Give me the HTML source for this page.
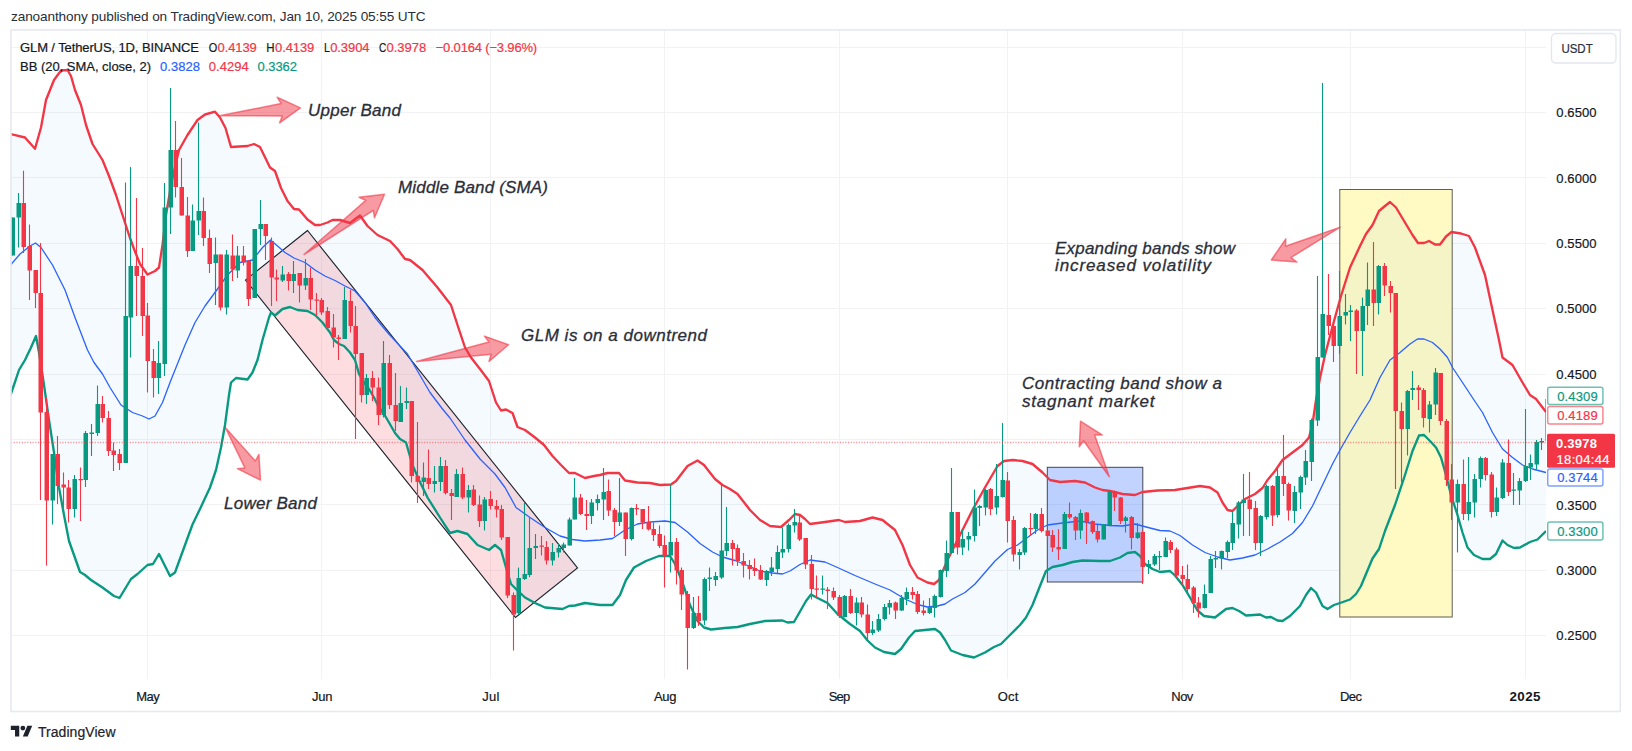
<!DOCTYPE html>
<html lang="en"><head><meta charset="utf-8"><title>GLM / TetherUS</title>
<style>html,body{margin:0;padding:0;background:#fff}svg{display:block}</style></head>
<body>
<svg width="1632" height="751" viewBox="0 0 1632 751" font-family="'Liberation Sans', sans-serif">
<defs><clipPath id="plot"><rect x="11" y="30" width="1535" height="681"/></clipPath></defs>
<rect width="1632" height="751" fill="#ffffff"/>
<g stroke="#f2f2f4" stroke-width="1" shape-rendering="crispEdges">
<line x1="11" y1="635.5" x2="1546" y2="635.5"/>
<line x1="11" y1="570.5" x2="1546" y2="570.5"/>
<line x1="11" y1="504.5" x2="1546" y2="504.5"/>
<line x1="11" y1="439.5" x2="1546" y2="439.5"/>
<line x1="11" y1="374.5" x2="1546" y2="374.5"/>
<line x1="11" y1="308.5" x2="1546" y2="308.5"/>
<line x1="11" y1="243.5" x2="1546" y2="243.5"/>
<line x1="11" y1="177.5" x2="1546" y2="177.5"/>
<line x1="11" y1="112.5" x2="1546" y2="112.5"/>
<line x1="11" y1="47.5" x2="1546" y2="47.5"/>
<line x1="147.5" y1="30" x2="147.5" y2="679"/>
<line x1="321.5" y1="30" x2="321.5" y2="679"/>
<line x1="490.5" y1="30" x2="490.5" y2="679"/>
<line x1="664.5" y1="30" x2="664.5" y2="679"/>
<line x1="839.5" y1="30" x2="839.5" y2="679"/>
<line x1="1007.5" y1="30" x2="1007.5" y2="679"/>
<line x1="1182.5" y1="30" x2="1182.5" y2="679"/>
<line x1="1350.5" y1="30" x2="1350.5" y2="679"/>
<line x1="1525.5" y1="30" x2="1525.5" y2="679"/>
</g>
<g clip-path="url(#plot)">
<polygon points="307.5,230.5 245.5,280 515.5,617.5 577.5,568" fill="#f23645" fill-opacity="0.17"/>
<rect x="1047.3" y="467.3" width="95.5" height="114.7" fill="#2962ff" fill-opacity="0.28"/>
<rect x="1339.8" y="189.5" width="112.4" height="427.5" fill="#fff9c4"/>
<polygon points="10.5,134 25,137.5 35,148.75 41,127.5 46,100 54,80 61,70.5 67.5,70 71,76 75,90 81,105 86,125 92.5,144 102.5,160 109,176 116,195 122.5,215 130,238 134,249 140,264 147.5,274.5 155,271 159,267.5 162.5,245 166,215 172,180 179,150 187.5,135 197.5,120 205,114.5 215,111.7 220,117.5 225.5,128 231,147 247.5,146 254,144 260,147 270,167.5 275,171 281,188 287.5,201 294,209 299,209.5 307.5,219.5 315,225 320,225 327.5,222.5 332.5,220 340,220 350,223 360,215.5 367.5,226 377.5,235 390,241 397.5,249 405,259 410,260 422.5,270 437.5,287.5 451,305 457.5,325 465,347.5 471,357.5 480,369 489,381 496,402.5 501,410.5 506,409.5 512.5,413 517.5,427 525,430 535,437.5 544,445 552.5,456 561,465 569,473 575,473 585,478 594,476 600,475 607.5,473 619,473 625,480.5 637.5,482.5 650,483 660,485 671,484.5 676,481 687.5,466 697.5,460.5 704,465 715,479 722.5,485 730,489 737.5,494 750,510 760,520 770,526 781,527 789,520 795,514 800,515 805,519 810,524 825,522 839,520 845,522 860,521 872.5,517.5 882.5,520 895,530 902.5,545 910,565 917.5,577.5 927.5,582.5 934,584 939,580 947.5,560 960,535 972.5,510 985,487.5 997.5,466 1004,461 1012.5,460 1022.5,461 1032.5,464 1042.5,472.5 1050,480 1060,482 1075,481 1085,482.5 1095,487.5 1102.5,490 1110,491 1122.5,494 1135,495 1142.5,492 1157.5,490.5 1175,490 1187.5,488 1200,486 1210,487.5 1217.5,492.5 1222.5,502.5 1227.5,510 1232.5,511 1237.5,506 1245,499 1255,494 1262.5,488 1267.5,480 1275,471 1282.5,460 1292.5,452.5 1302.5,445 1309,437.5 1312.5,424 1316,400 1320,378 1325,355 1330,336 1335,317.5 1341,296 1350,267.5 1360,246 1366,234 1372.5,225 1379,211 1385,206 1390,202 1396,207.5 1405,222.5 1412.5,235 1418,243 1424,243 1429,241 1435,244.5 1440,244.5 1446,236.5 1451.5,232 1461,233.5 1469,236 1475,247.5 1485,275 1492.5,310 1499,340 1502.5,357.5 1512.5,365 1522.5,382.5 1530,395 1536,399 1546,412 1546,531 1537.5,539.5 1530,542 1520,547.5 1514,548 1507.5,545 1502.5,540.5 1496,554 1490,559 1482.5,559 1474,555 1467.5,547.5 1462.5,532.5 1457.5,515 1451,495 1446,475 1441,457.5 1436,447.5 1430,441 1424,435 1419,435.5 1412.5,451 1405,475 1395,505 1385,531 1379,549 1372.5,558.5 1366,574 1361,586 1356,594 1350,599.5 1340,603 1334,605 1327.5,609 1322.5,606 1316,592.5 1311,588 1306,595 1300,606 1290,616 1282.5,621 1277.5,620.5 1271,617 1266,617.5 1260,614.5 1254,615 1246,615.5 1239,611 1232.5,608 1226,609 1215,617.5 1204,616 1197.5,610.5 1190,597.5 1182.5,585 1175,575.5 1170,571 1160,572 1152.5,569 1145,564 1140,556 1135,552 1127.5,553 1120,557.5 1110,561 1100,561 1082.5,560.5 1072.5,562 1062.5,565 1052.5,567 1046,571 1040,586 1032.5,605 1026,617.5 1020,625 1010,635 1001,644 994,647 985,652.5 974,657.5 962.5,655 951,650.5 945,640 940,632.5 935,629 925,630 915,631 909,637.5 901,649 895,654 884,652 875,647.5 867.5,640.5 860,631 850,624 837.5,614 827.5,603 817.5,598 811,594.5 806,601 800,611.5 794,622 787.5,622.5 782.5,620.5 765,621 750,624 737.5,627 725,628 711,629.5 704,627.5 697.5,621 690,605 682.5,582.5 675,564 670,556 659,556 646,561 634,567.5 626,580 620,595 612.5,605 600,605 585,603 575,605.5 569,606 562.5,609 545,607.5 535,603 525,597.5 516,589 511,584 506,567.5 501,550 495,545 489,550 477.5,545 467.5,534 457.5,531 450,533 440,517.5 427.5,497.5 419,480 412.5,465 406,442.5 400,439 395,433 389,422.5 384,414 379,407.5 374,397.5 369,389 364,382.5 359,374 355,360 350,352.5 344,346 339,344 334,340 330,332.5 322.5,322.5 315,315 307.5,311 297.5,310 290,307 282.5,309 275,315.5 271,312.5 269,317.5 262.5,340 257.5,360 252.5,372.5 247.5,379.5 236,378 231,382.5 229,395 225,425 221,447.5 216,470 210,487.5 200,509 192.5,524.5 185,545 175,572.5 170,576 159,554 153,564 147.5,565 137.5,574 131,579 119.5,598 114,596 102.5,587.5 91,580 85,575 80,572 69,541 64,515 59,487.5 54,452.5 49,420 44,385 39,352.5 36,336 31,347.5 25,360 19,370 15,382 10.5,395" fill="#2196f3" fill-opacity="0.05"/>
<polygon points="307.5,230.5 245.5,280 515.5,617.5 577.5,568" fill="none" stroke="#1e222d" stroke-width="1.15"/>
<rect x="1047.3" y="467.3" width="95.5" height="114.7" fill="none" stroke="#43464f" stroke-width="1"/>
<rect x="1339.8" y="189.5" width="112.4" height="427.5" fill="none" stroke="#5f5f55" stroke-width="1"/>
<polyline points="10.5,265 20,254 30,246 35.5,243 41,247.5 52.5,265 65,290 75,317.5 87.5,350 94,362.5 102.5,374 110,387.5 121,405 132.5,412.5 142.5,416 149,419 155,416 162.5,402.5 170,382.5 175,370 185,345 195,322.5 205,306 217.5,289 227.5,275 240,262.5 252.5,260 262.5,247.5 270.5,240 277.5,246 285,252.5 294,258 305,262.5 315,270 325,276 335,280.5 345,286 355,291 365,302.5 375,317.5 387.5,332.5 400,346 407.5,354 417.5,371 430,392.5 442.5,409 450,418 465,440 480,459 495,474 505,487.5 516,507.5 530,517.5 545,527.5 560,536 572.5,539.5 585,541 600,540 612.5,538.5 625,530 637.5,524 650,522 665,521 675,522.5 687.5,532 700,543.5 712.5,552 722.5,557 735,560.5 750,566.5 760,571 772.5,573 782.5,574 790,571 800,564.5 810,560 825,562 837.5,567.5 855,575.5 875,584 890,590 905,599 917.5,604.5 927.5,607 937.5,606 945,604 952.5,599 965,592.5 975,584 985,572.5 995,561 1007.5,549.5 1017.5,545 1027.5,537.5 1037.5,530 1047.5,525 1062.5,523 1080,521 1095,524 1110,525.5 1122.5,526 1135,524 1150,528 1160,530.5 1170,531 1180,535.5 1192.5,545 1205,552.5 1217.5,557 1230,560 1242.5,558 1255,555 1267.5,549 1280,542 1292.5,533.5 1302.5,522.5 1312.5,506 1322.5,485 1332.5,464 1340,450 1350,432.5 1360,416 1370,400 1380,377.5 1390,360 1400,352.5 1410,344 1417.5,339 1424,339 1432.5,342.5 1440,349 1447.5,357.5 1452.5,367.5 1462.5,382.5 1474,400 1482.5,412.5 1492.5,432.5 1502.5,449 1512.5,457.5 1522.5,465 1532.5,469 1546,472.5" fill="none" stroke="#2962ff" stroke-width="1.3" stroke-linejoin="round"/>
<polyline points="10.5,134 25,137.5 35,148.75 41,127.5 46,100 54,80 61,70.5 67.5,70 71,76 75,90 81,105 86,125 92.5,144 102.5,160 109,176 116,195 122.5,215 130,238 134,249 140,264 147.5,274.5 155,271 159,267.5 162.5,245 166,215 172,180 179,150 187.5,135 197.5,120 205,114.5 215,111.7 220,117.5 225.5,128 231,147 247.5,146 254,144 260,147 270,167.5 275,171 281,188 287.5,201 294,209 299,209.5 307.5,219.5 315,225 320,225 327.5,222.5 332.5,220 340,220 350,223 360,215.5 367.5,226 377.5,235 390,241 397.5,249 405,259 410,260 422.5,270 437.5,287.5 451,305 457.5,325 465,347.5 471,357.5 480,369 489,381 496,402.5 501,410.5 506,409.5 512.5,413 517.5,427 525,430 535,437.5 544,445 552.5,456 561,465 569,473 575,473 585,478 594,476 600,475 607.5,473 619,473 625,480.5 637.5,482.5 650,483 660,485 671,484.5 676,481 687.5,466 697.5,460.5 704,465 715,479 722.5,485 730,489 737.5,494 750,510 760,520 770,526 781,527 789,520 795,514 800,515 805,519 810,524 825,522 839,520 845,522 860,521 872.5,517.5 882.5,520 895,530 902.5,545 910,565 917.5,577.5 927.5,582.5 934,584 939,580 947.5,560 960,535 972.5,510 985,487.5 997.5,466 1004,461 1012.5,460 1022.5,461 1032.5,464 1042.5,472.5 1050,480 1060,482 1075,481 1085,482.5 1095,487.5 1102.5,490 1110,491 1122.5,494 1135,495 1142.5,492 1157.5,490.5 1175,490 1187.5,488 1200,486 1210,487.5 1217.5,492.5 1222.5,502.5 1227.5,510 1232.5,511 1237.5,506 1245,499 1255,494 1262.5,488 1267.5,480 1275,471 1282.5,460 1292.5,452.5 1302.5,445 1309,437.5 1312.5,424 1316,400 1320,378 1325,355 1330,336 1335,317.5 1341,296 1350,267.5 1360,246 1366,234 1372.5,225 1379,211 1385,206 1390,202 1396,207.5 1405,222.5 1412.5,235 1418,243 1424,243 1429,241 1435,244.5 1440,244.5 1446,236.5 1451.5,232 1461,233.5 1469,236 1475,247.5 1485,275 1492.5,310 1499,340 1502.5,357.5 1512.5,365 1522.5,382.5 1530,395 1536,399 1546,412" fill="none" stroke="#f23645" stroke-width="2.35" stroke-linejoin="round"/>
<polyline points="10.5,395 15,382 19,370 25,360 31,347.5 36,336 39,352.5 44,385 49,420 54,452.5 59,487.5 64,515 69,541 80,572 85,575 91,580 102.5,587.5 114,596 119.5,598 131,579 137.5,574 147.5,565 153,564 159,554 170,576 175,572.5 185,545 192.5,524.5 200,509 210,487.5 216,470 221,447.5 225,425 229,395 231,382.5 236,378 247.5,379.5 252.5,372.5 257.5,360 262.5,340 269,317.5 271,312.5 275,315.5 282.5,309 290,307 297.5,310 307.5,311 315,315 322.5,322.5 330,332.5 334,340 339,344 344,346 350,352.5 355,360 359,374 364,382.5 369,389 374,397.5 379,407.5 384,414 389,422.5 395,433 400,439 406,442.5 412.5,465 419,480 427.5,497.5 440,517.5 450,533 457.5,531 467.5,534 477.5,545 489,550 495,545 501,550 506,567.5 511,584 516,589 525,597.5 535,603 545,607.5 562.5,609 569,606 575,605.5 585,603 600,605 612.5,605 620,595 626,580 634,567.5 646,561 659,556 670,556 675,564 682.5,582.5 690,605 697.5,621 704,627.5 711,629.5 725,628 737.5,627 750,624 765,621 782.5,620.5 787.5,622.5 794,622 800,611.5 806,601 811,594.5 817.5,598 827.5,603 837.5,614 850,624 860,631 867.5,640.5 875,647.5 884,652 895,654 901,649 909,637.5 915,631 925,630 935,629 940,632.5 945,640 951,650.5 962.5,655 974,657.5 985,652.5 994,647 1001,644 1010,635 1020,625 1026,617.5 1032.5,605 1040,586 1046,571 1052.5,567 1062.5,565 1072.5,562 1082.5,560.5 1100,561 1110,561 1120,557.5 1127.5,553 1135,552 1140,556 1145,564 1152.5,569 1160,572 1170,571 1175,575.5 1182.5,585 1190,597.5 1197.5,610.5 1204,616 1215,617.5 1226,609 1232.5,608 1239,611 1246,615.5 1254,615 1260,614.5 1266,617.5 1271,617 1277.5,620.5 1282.5,621 1290,616 1300,606 1306,595 1311,588 1316,592.5 1322.5,606 1327.5,609 1334,605 1340,603 1350,599.5 1356,594 1361,586 1366,574 1372.5,558.5 1379,549 1385,531 1395,505 1405,475 1412.5,451 1419,435.5 1424,435 1430,441 1436,447.5 1441,457.5 1446,475 1451,495 1457.5,515 1462.5,532.5 1467.5,547.5 1474,555 1482.5,559 1490,559 1496,554 1502.5,540.5 1507.5,545 1514,548 1520,547.5 1530,542 1537.5,539.5 1546,531" fill="none" stroke="#089981" stroke-width="2.35" stroke-linejoin="round"/>
<path d="M12.5 217.5V255.5M18.5 193V247.5M52.5 454V524.5M74.5 475V517.5M85.5 431V487M91.5 424V456M97.5 385.5V436M125.5 182.5V463M130.5 167V357.5M158.5 341V394M164.5 183V376M170.5 88V234M192.5 204.5V251M198.5 122.5V235M215.5 237.5V305M226.5 250V314.5M237.5 246V278M254.5 229V298M260.5 200V245M282.5 266V282M293.5 261V293M305.5 259V290M344.5 287V339M366.5 374V404M383.5 341V417.5M400.5 386V422M406.5 387.5V409M423.5 462.5V496M434.5 466V492.5M440.5 457V491M456.5 469V497M468.5 485V512.5M484.5 497V530.5M518.5 567.5V615M524.5 503V580M529.5 517V577M535.5 534V559M552.5 543V565.5M558.5 544V557.5M563.5 542.5V552.5M569.5 517.5V545.5M574.5 478V519.5M591.5 499V524M597.5 494.5V510.5M603.5 468V520M619.5 478V526M631.5 507.5V540.5M670.5 484.5V572.5M693.5 597V629M704.5 577.5V625M709.5 567.5V591M715.5 572V586M721.5 485V579M726.5 507V556M766.5 570V586M771.5 557V576M777.5 545.5V573M782.5 527.5V558M788.5 523.5V552.5M794.5 509V532.5M822.5 575.5V594.5M844.5 595V617.5M856.5 597.5V625.5M872.5 621V635M878.5 614V632M884.5 604V620.5M889.5 600V614.5M901.5 595V611M906.5 587.5V605M929.5 598V614M934.5 594.5V617.5M940.5 569.5V597.5M946.5 540.5V577M951.5 468V553M962.5 530V555M968.5 532V550.5M974.5 489.5V541.5M979.5 505V526M985.5 489V515.5M996.5 464V514.5M1002.5 423V497.5M1019.5 549V569.5M1024.5 527V555M1035.5 513V534M1064.5 512V549M1080.5 509.5V539M1103.5 524V539.5M1109.5 490V525.5M1125.5 516V532.5M1137.5 523V539M1148.5 560V574M1154.5 554V566M1159.5 551V570M1165.5 537.5V557M1204.5 584.5V608.5M1210.5 556V593M1215.5 551V568M1221.5 550.5V569.5M1227.5 540.5V558M1232.5 511V550M1238.5 501V538.5M1243.5 474V536M1260.5 515V556M1266.5 484.5V519.5M1277.5 468V517.5M1294.5 486V523M1300.5 475.5V509M1305.5 450V485M1311.5 418.5V481M1317.5 276V426M1322.5 83V357.5M1339.5 271V354M1345.5 294V324.5M1350.5 305V341M1362.5 297.5V376M1367.5 262.5V325M1378.5 265V314.5M1407.5 390V455.5M1412.5 371V400M1429.5 401V432.5M1435.5 368V415M1457.5 479.5V552.5M1468.5 457V520.5M1474.5 474V517.5M1480.5 456.5V487.5M1496.5 487.5V516M1502.5 459V499M1513.5 473V505M1519.5 478V505M1525.5 409V482M1530.5 454.5V480M1536.5 440V469.5M1541.5 438V450" stroke="#089981" stroke-width="1.1" fill="none"/>
<path d="M23.5 170.75V253M29.5 224.5V300M35.5 270V308M40.5 243V500M46.5 398V565.5M57.5 436V504M63.5 472.5V509M68.5 480V522.5M80.5 467.5V521M102.5 396V422.5M108.5 411V456M113.5 442.5V471M119.5 449V470M136.5 198V316M142.5 248V336M147.5 303V392.5M153.5 349V397.5M175.5 121V197.5M181.5 158V215.5M187.5 197V257M203.5 197.5V246M209.5 229.5V273M220.5 254.5V310.5M232.5 234.5V281M243.5 246V265.5M248.5 260V306M265.5 224V260M271.5 237.5V306M276.5 269.5V301M288.5 272V290.5M299.5 273V302.5M310.5 267.5V310M316.5 293V315M321.5 298V315M327.5 307V330M333.5 314V347.5M338.5 335V360M350.5 290V332.5M355.5 306V439M361.5 353V402.5M372.5 371V401M378.5 377.5V425M389.5 355V409M395.5 373V431M411.5 401V482.5M417.5 422V503M428.5 449.5V489M445.5 460V494.5M451.5 489V520M462.5 467.5V499M473.5 485V506M479.5 495.5V527M490.5 491V509.5M496.5 500V517.5M501.5 505V540M507.5 537V598M513.5 592.5V650.5M541.5 536V555.5M546.5 541V564.5M580.5 494V515M586.5 500V530M608.5 479.5V516M614.5 508V536M625.5 512.5V556M636.5 504V515M642.5 509V529M648.5 506V530.5M653.5 522.5V541M659.5 525.5V548M664.5 535.5V587.5M676.5 538V584.5M681.5 567.5V610M687.5 591V669.5M698.5 596V626M732.5 540V565.5M737.5 544.5V566M743.5 553V577.5M749.5 560V579.5M754.5 558.5V576M760.5 565V580M799.5 515V541M805.5 538V569M811.5 555V599.5M816.5 575.5V597.5M827.5 587V609M833.5 587.5V600M839.5 595V618M850.5 589V614M861.5 597V617.5M867.5 604.5V641M895.5 601.5V619M912.5 587V599.5M917.5 591V614M923.5 600.5V615.5M957.5 512V554.5M990.5 488V515M1007.5 472V542.5M1013.5 516V561.5M1030.5 513V535M1041.5 508V532.5M1047.5 529.5V540M1052.5 530V552M1058.5 529V560M1069.5 502.5V519M1075.5 516V540M1086.5 512V544M1092.5 520.5V534M1097.5 525V542.5M1114.5 490.5V511M1120.5 497V524M1131.5 516V549.5M1142.5 530.5V584M1170.5 540V553M1176.5 547.5V577M1182.5 566V584.5M1187.5 564.5V592.5M1193.5 586V613M1198.5 597V617.5M1249.5 472V536M1255.5 501V550M1272.5 485V526M1283.5 435V496M1288.5 482.5V520.5M1328.5 274V335M1333.5 325V362M1356.5 309V374M1373.5 242V326M1384.5 263V296M1390.5 281V312.5M1395.5 293V489M1401.5 402.5V482.5M1418.5 385V410M1423.5 388V427.5M1440.5 373V425M1446.5 419V486M1451.5 464V520M1463.5 459.5V520M1485.5 457V480.5M1491.5 472V517.5M1508.5 439.5V496" stroke="#f23645" stroke-width="1.1" fill="none"/>
<path d="M10.5 217.5h4.5V255.5h-4.5zM16.5 203h4.5V217.5h-4.5zM50.5 454h4.5V500.5h-4.5zM72.5 479h4.5V509h-4.5zM83.5 433h4.5V480h-4.5zM89.5 432.5h4.5V434h-4.5zM95.5 404h4.5V433h-4.5zM123.5 316h4.5V463h-4.5zM128.5 266h4.5V317.5h-4.5zM156.5 363h4.5V378h-4.5zM162.5 207.5h4.5V364h-4.5zM168.5 150h4.5V207.5h-4.5zM190.5 220.5h4.5V251h-4.5zM196.5 211h4.5V220.5h-4.5zM213.5 254.5h4.5V263h-4.5zM224.5 254.5h4.5V307.5h-4.5zM235.5 255.5h4.5V270.5h-4.5zM252.5 229h4.5V298h-4.5zM258.5 224h4.5V229h-4.5zM280.5 274.5h4.5V280.5h-4.5zM291.5 274h4.5V281h-4.5zM303.5 278h4.5V285.5h-4.5zM342.5 300h4.5V339h-4.5zM364.5 378h4.5V395h-4.5zM381.5 363h4.5V415h-4.5zM398.5 403h4.5V422h-4.5zM404.5 401h4.5V403h-4.5zM421.5 477.5h4.5V482h-4.5zM432.5 481h4.5V484h-4.5zM438.5 466h4.5V482h-4.5zM454.5 474h4.5V497h-4.5zM466.5 490h4.5V497.5h-4.5zM482.5 499.5h4.5V521h-4.5zM516.5 578h4.5V613h-4.5zM522.5 574h4.5V579h-4.5zM527.5 548h4.5V575h-4.5zM533.5 546h4.5V548h-4.5zM550.5 552h4.5V560.5h-4.5zM556.5 548h4.5V552.5h-4.5zM561.5 544.5h4.5V548h-4.5zM567.5 519.5h4.5V545.5h-4.5zM572.5 497.5h4.5V519.5h-4.5zM589.5 502.5h4.5V516h-4.5zM595.5 499h4.5V503h-4.5zM601.5 492h4.5V499.5h-4.5zM617.5 512.5h4.5V522h-4.5zM629.5 508h4.5V539h-4.5zM668.5 542h4.5V555.5h-4.5zM691.5 613h4.5V628h-4.5zM702.5 579h4.5V620.5h-4.5zM707.5 577.5h4.5V579h-4.5zM713.5 576h4.5V580h-4.5zM719.5 550.5h4.5V577.5h-4.5zM724.5 543h4.5V551h-4.5zM764.5 571h4.5V580h-4.5zM769.5 567.5h4.5V572h-4.5zM775.5 552h4.5V569h-4.5zM780.5 549h4.5V552.5h-4.5zM786.5 525h4.5V549h-4.5zM792.5 522h4.5V525.5h-4.5zM820.5 588.5h4.5V589.75h-4.5zM842.5 596h4.5V617h-4.5zM854.5 602.5h4.5V613h-4.5zM870.5 629.5h4.5V633h-4.5zM876.5 619h4.5V630.5h-4.5zM882.5 607h4.5V619h-4.5zM887.5 603h4.5V607.5h-4.5zM899.5 598h4.5V610.5h-4.5zM904.5 592h4.5V599h-4.5zM927.5 607h4.5V613h-4.5zM932.5 596h4.5V608h-4.5zM938.5 570h4.5V597h-4.5zM944.5 553h4.5V571h-4.5zM949.5 512h4.5V553h-4.5zM960.5 539h4.5V547.5h-4.5zM966.5 536h4.5V539.5h-4.5zM972.5 507.5h4.5V536h-4.5zM977.5 506h4.5V508h-4.5zM983.5 490h4.5V507.5h-4.5zM994.5 496h4.5V507.5h-4.5zM1000.5 480h4.5V497h-4.5zM1017.5 552h4.5V555h-4.5zM1022.5 528h4.5V552.5h-4.5zM1033.5 514h4.5V529h-4.5zM1062.5 514h4.5V549h-4.5zM1078.5 513h4.5V530.5h-4.5zM1101.5 524h4.5V539.5h-4.5zM1107.5 491h4.5V525h-4.5zM1123.5 517.5h4.5V521h-4.5zM1135.5 532.5h4.5V538h-4.5zM1146.5 564h4.5V567h-4.5zM1152.5 556h4.5V564.5h-4.5zM1157.5 556h4.5V557.25h-4.5zM1163.5 541h4.5V557h-4.5zM1202.5 594h4.5V608h-4.5zM1208.5 559h4.5V593h-4.5zM1213.5 558h4.5V559.5h-4.5zM1219.5 551h4.5V558.5h-4.5zM1225.5 542h4.5V552h-4.5zM1230.5 523h4.5V543h-4.5zM1236.5 502.5h4.5V524.5h-4.5zM1241.5 499.5h4.5V503h-4.5zM1258.5 516h4.5V543h-4.5zM1264.5 486h4.5V517h-4.5zM1275.5 476h4.5V515h-4.5zM1292.5 492h4.5V511h-4.5zM1298.5 477h4.5V492.5h-4.5zM1303.5 461h4.5V477.5h-4.5zM1309.5 420h4.5V462h-4.5zM1315.5 357h4.5V420.5h-4.5zM1320.5 314h4.5V357.5h-4.5zM1337.5 316h4.5V346h-4.5zM1343.5 312h4.5V315.5h-4.5zM1348.5 310.5h4.5V312h-4.5zM1360.5 306h4.5V331h-4.5zM1365.5 289.5h4.5V306h-4.5zM1376.5 266h4.5V303h-4.5zM1405.5 391h4.5V429h-4.5zM1410.5 388h4.5V390h-4.5zM1427.5 404.5h4.5V419h-4.5zM1433.5 372.5h4.5V404.5h-4.5zM1455.5 484h4.5V502.5h-4.5zM1466.5 502h4.5V514h-4.5zM1472.5 479h4.5V502.5h-4.5zM1478.5 458h4.5V479h-4.5zM1494.5 497.5h4.5V512h-4.5zM1500.5 462.5h4.5V498h-4.5zM1511.5 489.5h4.5V490.75h-4.5zM1517.5 481h4.5V490.5h-4.5zM1523.5 466h4.5V481h-4.5zM1528.5 463h4.5V467.5h-4.5zM1534.5 442h4.5V464.5h-4.5zM1539.5 441h4.5V442.5h-4.5z" fill="#089981"/>
<path d="M21.5 203h4.5V247h-4.5zM27.5 246h4.5V270.5h-4.5zM33.5 270h4.5V293h-4.5zM38.5 293h4.5V412.5h-4.5zM44.5 412h4.5V500.5h-4.5zM55.5 454h4.5V486h-4.5zM61.5 484.5h4.5V487.5h-4.5zM66.5 487.5h4.5V509h-4.5zM78.5 479h4.5V480.25h-4.5zM100.5 404h4.5V418h-4.5zM106.5 418h4.5V451h-4.5zM111.5 450.5h4.5V455h-4.5zM117.5 454h4.5V463h-4.5zM134.5 266h4.5V276h-4.5zM140.5 276h4.5V316h-4.5zM145.5 315.5h4.5V361h-4.5zM151.5 361h4.5V378h-4.5zM173.5 150h4.5V187h-4.5zM179.5 187h4.5V215.5h-4.5zM185.5 215.5h4.5V251h-4.5zM201.5 211h4.5V238h-4.5zM207.5 238h4.5V264h-4.5zM218.5 254.5h4.5V307.5h-4.5zM230.5 255.5h4.5V269.5h-4.5zM241.5 255.5h4.5V262.5h-4.5zM246.5 261h4.5V299h-4.5zM263.5 224h4.5V236h-4.5zM269.5 241h4.5V277.5h-4.5zM274.5 277.5h4.5V279.5h-4.5zM286.5 274h4.5V281h-4.5zM297.5 273h4.5V285.5h-4.5zM308.5 278h4.5V299.5h-4.5zM314.5 299.5h4.5V300.75h-4.5zM319.5 300h4.5V312.5h-4.5zM325.5 311h4.5V328h-4.5zM331.5 327.5h4.5V337.5h-4.5zM336.5 337.5h4.5V339h-4.5zM348.5 301h4.5V326h-4.5zM353.5 326h4.5V354h-4.5zM359.5 353h4.5V395h-4.5zM370.5 378h4.5V387.5h-4.5zM376.5 387.5h4.5V415h-4.5zM387.5 363h4.5V405h-4.5zM393.5 405h4.5V421h-4.5zM409.5 401h4.5V476h-4.5zM415.5 476h4.5V482h-4.5zM426.5 478h4.5V484h-4.5zM443.5 466h4.5V493h-4.5zM449.5 493h4.5V496h-4.5zM460.5 474h4.5V497.5h-4.5zM471.5 489.5h4.5V505h-4.5zM477.5 504.5h4.5V521h-4.5zM488.5 499h4.5V506h-4.5zM494.5 506h4.5V509.5h-4.5zM499.5 509h4.5V537.5h-4.5zM505.5 537h4.5V595.5h-4.5zM511.5 595h4.5V614.5h-4.5zM539.5 545.5h4.5V546.75h-4.5zM544.5 547h4.5V560.5h-4.5zM578.5 497.5h4.5V514h-4.5zM584.5 514h4.5V516h-4.5zM606.5 491h4.5V510.5h-4.5zM612.5 510h4.5V522h-4.5zM623.5 512.5h4.5V539h-4.5zM634.5 508h4.5V509.25h-4.5zM640.5 509h4.5V522.5h-4.5zM646.5 522h4.5V529.5h-4.5zM651.5 529h4.5V535h-4.5zM657.5 534h4.5V546h-4.5zM662.5 545h4.5V555.5h-4.5zM674.5 542h4.5V570.5h-4.5zM679.5 570h4.5V594.5h-4.5zM685.5 594h4.5V628h-4.5zM696.5 613h4.5V621h-4.5zM730.5 543h4.5V549h-4.5zM735.5 548h4.5V561h-4.5zM741.5 561h4.5V565.5h-4.5zM747.5 565h4.5V569h-4.5zM752.5 568h4.5V571h-4.5zM758.5 570h4.5V579.5h-4.5zM797.5 522.5h4.5V539.5h-4.5zM803.5 538h4.5V564.5h-4.5zM809.5 564h4.5V589h-4.5zM814.5 588.5h4.5V589.75h-4.5zM825.5 589.5h4.5V591h-4.5zM831.5 591h4.5V597.5h-4.5zM837.5 597h4.5V616h-4.5zM848.5 596h4.5V613h-4.5zM859.5 602.5h4.5V614.5h-4.5zM865.5 614.5h4.5V633h-4.5zM893.5 602.5h4.5V610.5h-4.5zM910.5 592h4.5V595h-4.5zM915.5 594h4.5V612h-4.5zM921.5 610.5h4.5V613h-4.5zM955.5 512h4.5V547.5h-4.5zM988.5 489h4.5V509h-4.5zM1005.5 480.5h4.5V521h-4.5zM1011.5 520h4.5V554.5h-4.5zM1028.5 528h4.5V529.25h-4.5zM1039.5 514h4.5V531h-4.5zM1045.5 530.5h4.5V536h-4.5zM1050.5 535h4.5V547.5h-4.5zM1056.5 547h4.5V549.5h-4.5zM1067.5 514h4.5V517.5h-4.5zM1073.5 517h4.5V530.5h-4.5zM1084.5 512.5h4.5V522h-4.5zM1090.5 521h4.5V532h-4.5zM1095.5 531h4.5V539.5h-4.5zM1112.5 491h4.5V497.5h-4.5zM1118.5 497.5h4.5V521h-4.5zM1129.5 517h4.5V538h-4.5zM1140.5 532h4.5V567h-4.5zM1168.5 542h4.5V550h-4.5zM1174.5 549.5h4.5V575.5h-4.5zM1180.5 575h4.5V579h-4.5zM1185.5 579h4.5V589h-4.5zM1191.5 587.5h4.5V603h-4.5zM1196.5 602.5h4.5V608.5h-4.5zM1247.5 499.5h4.5V509h-4.5zM1253.5 508h4.5V543h-4.5zM1270.5 486h4.5V515.5h-4.5zM1281.5 476h4.5V484h-4.5zM1286.5 484h4.5V510.5h-4.5zM1326.5 315h4.5V326h-4.5zM1331.5 326h4.5V346h-4.5zM1354.5 310.5h4.5V331h-4.5zM1371.5 289.5h4.5V303h-4.5zM1382.5 266h4.5V285.5h-4.5zM1388.5 286h4.5V293h-4.5zM1393.5 293h4.5V411h-4.5zM1399.5 411h4.5V429h-4.5zM1416.5 387.5h4.5V390h-4.5zM1421.5 390h4.5V418h-4.5zM1438.5 373h4.5V421h-4.5zM1444.5 421h4.5V480h-4.5zM1449.5 479.5h4.5V502.5h-4.5zM1461.5 484h4.5V514h-4.5zM1483.5 458h4.5V475h-4.5zM1489.5 474.5h4.5V512h-4.5zM1506.5 463h4.5V492h-4.5z" fill="#f23645"/>
<rect x="1545" y="399" width="3" height="42" fill="#089981" fill-opacity="0.6"/>
<line x1="11" y1="442.5" x2="1546" y2="442.5" stroke="#f23645" stroke-width="1.4" stroke-opacity="0.55" stroke-dasharray="1.1 1.6"/>
<polygon points="219.5,115.8 282.4,115.9 279.6,122.9 300.4,107.9 277.1,97.2 281.2,103.5" fill="#f23645" fill-opacity="0.5" stroke="#f23645" stroke-opacity="0.6" stroke-width="1.5" stroke-linejoin="round"/>
<polygon points="304,254.5 373.3,210.4 374.5,217.8 384.5,194.2 359,197.2 365.8,200.4" fill="#f23645" fill-opacity="0.5" stroke="#f23645" stroke-opacity="0.6" stroke-width="1.5" stroke-linejoin="round"/>
<polygon points="416.5,361.5 491.2,354.3 489,361.5 508.5,344.8 484.4,336.1 489,342" fill="#f23645" fill-opacity="0.5" stroke="#f23645" stroke-opacity="0.6" stroke-width="1.5" stroke-linejoin="round"/>
<polygon points="225.5,427.8 244.9,467.9 237.4,468.7 260.5,480 258.9,454.4 255.3,461" fill="#f23645" fill-opacity="0.5" stroke="#f23645" stroke-opacity="0.6" stroke-width="1.5" stroke-linejoin="round"/>
<polygon points="1109.3,476.8 1094.7,434.9 1102.2,435 1080.5,421.2 1079.3,446.8 1083.6,440.7" fill="#f23645" fill-opacity="0.5" stroke="#f23645" stroke-opacity="0.6" stroke-width="1.5" stroke-linejoin="round"/>
<polygon points="1340.2,227.2 1285.5,246.3 1285.8,238.8 1271.3,260 1296.9,262.1 1290.9,257.6" fill="#f23645" fill-opacity="0.5" stroke="#f23645" stroke-opacity="0.6" stroke-width="1.5" stroke-linejoin="round"/>
</g>
<text x="308" y="116" font-size="17" font-style="italic" fill="#2a2e39" stroke="#2a2e39" stroke-width="0.3" textLength="93" lengthAdjust="spacing">Upper Band</text>
<text x="398" y="193" font-size="17" font-style="italic" fill="#2a2e39" stroke="#2a2e39" stroke-width="0.3" textLength="150" lengthAdjust="spacing">Middle Band (SMA)</text>
<text x="521" y="341" font-size="17" font-style="italic" fill="#2a2e39" stroke="#2a2e39" stroke-width="0.3" textLength="186" lengthAdjust="spacing">GLM is on a downtrend</text>
<text x="224" y="509" font-size="17" font-style="italic" fill="#2a2e39" stroke="#2a2e39" stroke-width="0.3" textLength="93" lengthAdjust="spacing">Lower Band</text>
<text x="1055" y="254" font-size="17" font-style="italic" fill="#2a2e39" stroke="#2a2e39" stroke-width="0.3" textLength="180" lengthAdjust="spacing">Expanding bands show</text>
<text x="1055" y="271.3" font-size="17" font-style="italic" fill="#2a2e39" stroke="#2a2e39" stroke-width="0.3" textLength="156" lengthAdjust="spacing">increased volatility</text>
<text x="1022" y="388.8" font-size="17" font-style="italic" fill="#2a2e39" stroke="#2a2e39" stroke-width="0.3" textLength="200" lengthAdjust="spacing">Contracting band show a</text>
<text x="1022" y="406.6" font-size="17" font-style="italic" fill="#2a2e39" stroke="#2a2e39" stroke-width="0.3" textLength="132.5" lengthAdjust="spacing">stagnant market</text>
<rect x="11" y="29.9" width="1609.3" height="681.6" fill="none" stroke="#e7e9f0" stroke-width="1.6"/>
<text x="11" y="21.3" font-size="13.6" fill="#2a2e39" textLength="414.5" lengthAdjust="spacing">zanoanthony published on TradingView.com, Jan 10, 2025 05:55 UTC</text>
<text x="20" y="51.8" font-size="13" fill="#131722" stroke="#131722" stroke-width="0.2" textLength="179" lengthAdjust="spacing">GLM / TetherUS, 1D, BINANCE</text>
<text x="208.7" y="51.8" font-size="13" fill="#131722" stroke="#131722" stroke-width="0.2" textLength="8.5" lengthAdjust="spacingAndGlyphs">O</text>
<text x="217.5" y="51.8" font-size="13" fill="#f23645" stroke="#f23645" stroke-width="0.2" textLength="39.3" lengthAdjust="spacing">0.4139</text>
<text x="266.2" y="51.8" font-size="13" fill="#131722" stroke="#131722" stroke-width="0.2" textLength="8.3" lengthAdjust="spacingAndGlyphs">H</text>
<text x="275" y="51.8" font-size="13" fill="#f23645" stroke="#f23645" stroke-width="0.2" textLength="39.3" lengthAdjust="spacing">0.4139</text>
<text x="324" y="51.8" font-size="13" fill="#131722" stroke="#131722" stroke-width="0.2" textLength="6" lengthAdjust="spacingAndGlyphs">L</text>
<text x="330.2" y="51.8" font-size="13" fill="#f23645" stroke="#f23645" stroke-width="0.2" textLength="39.3" lengthAdjust="spacing">0.3904</text>
<text x="379" y="51.8" font-size="13" fill="#131722" stroke="#131722" stroke-width="0.2" textLength="7.3" lengthAdjust="spacingAndGlyphs">C</text>
<text x="386.5" y="51.8" font-size="13" fill="#f23645" stroke="#f23645" stroke-width="0.2" textLength="39.8" lengthAdjust="spacing">0.3978</text>
<text x="435.7" y="51.8" font-size="13" fill="#f23645" stroke="#f23645" stroke-width="0.2" textLength="101.5" lengthAdjust="spacing">−0.0164 (−3.96%)</text>
<text x="20" y="70.8" font-size="13" fill="#131722" stroke="#131722" stroke-width="0.2" textLength="131" lengthAdjust="spacing">BB (20, SMA, close, 2)</text>
<text x="160" y="70.8" font-size="13" fill="#2962ff" stroke="#2962ff" stroke-width="0.2" textLength="40" lengthAdjust="spacing">0.3828</text>
<text x="208.8" y="70.8" font-size="13" fill="#f23645" stroke="#f23645" stroke-width="0.2" textLength="40" lengthAdjust="spacing">0.4294</text>
<text x="257.5" y="70.8" font-size="13" fill="#089981" stroke="#089981" stroke-width="0.2" textLength="39.5" lengthAdjust="spacing">0.3362</text>
<text x="1556.3" y="640.3" font-size="13" fill="#131722" stroke="#131722" stroke-width="0.2" textLength="40.3" lengthAdjust="spacing">0.2500</text>
<text x="1556.3" y="574.9" font-size="13" fill="#131722" stroke="#131722" stroke-width="0.2" textLength="40.3" lengthAdjust="spacing">0.3000</text>
<text x="1556.3" y="509.5" font-size="13" fill="#131722" stroke="#131722" stroke-width="0.2" textLength="40.3" lengthAdjust="spacing">0.3500</text>
<text x="1556.3" y="378.7" font-size="13" fill="#131722" stroke="#131722" stroke-width="0.2" textLength="40.3" lengthAdjust="spacing">0.4500</text>
<text x="1556.3" y="313.3" font-size="13" fill="#131722" stroke="#131722" stroke-width="0.2" textLength="40.3" lengthAdjust="spacing">0.5000</text>
<text x="1556.3" y="247.9" font-size="13" fill="#131722" stroke="#131722" stroke-width="0.2" textLength="40.3" lengthAdjust="spacing">0.5500</text>
<text x="1556.3" y="182.5" font-size="13" fill="#131722" stroke="#131722" stroke-width="0.2" textLength="40.3" lengthAdjust="spacing">0.6000</text>
<text x="1556.3" y="117.1" font-size="13" fill="#131722" stroke="#131722" stroke-width="0.2" textLength="40.3" lengthAdjust="spacing">0.6500</text>
<rect x="1551.5" y="33.5" width="64.5" height="29.5" rx="4.5" fill="#fff" stroke="#e4e6ee" stroke-width="1.3"/>
<text x="1561.4" y="53" font-size="13.2" fill="#2a2e39" stroke="#2a2e39" stroke-width="0.2" textLength="31.3" lengthAdjust="spacingAndGlyphs">USDT</text>
<rect x="1547.7" y="387.2" width="55.2" height="17.3" rx="2" fill="#fff" stroke="#089981" stroke-opacity="0.6" stroke-width="1.5"/>
<text x="1557.2" y="400.65" font-size="13" fill="#089981" stroke="#089981" stroke-width="0.2" textLength="40.5" lengthAdjust="spacing">0.4309</text>
<rect x="1547.7" y="406.6" width="55.2" height="17.4" rx="2" fill="#fff" stroke="#f23645" stroke-opacity="0.6" stroke-width="1.5"/>
<text x="1557.2" y="420.1" font-size="13" fill="#f23645" stroke="#f23645" stroke-width="0.2" textLength="40.5" lengthAdjust="spacing">0.4189</text>
<rect x="1547" y="433.7" width="68" height="34" rx="1.5" fill="#f23645"/>
<text x="1556" y="447.6" font-size="13" fill="#fff" stroke="#fff" stroke-width="0" textLength="41" lengthAdjust="spacing" font-weight="bold">0.3978</text>
<text x="1556.5" y="463.8" font-size="13" fill="#fff" stroke="#fff" stroke-width="0.2" textLength="53" lengthAdjust="spacing">18:04:44</text>
<rect x="1547.7" y="468.9" width="55.2" height="17.1" rx="2" fill="#fff" stroke="#2962ff" stroke-opacity="0.6" stroke-width="1.5"/>
<text x="1557.2" y="482.25" font-size="13" fill="#2962ff" stroke="#2962ff" stroke-width="0.2" textLength="40.5" lengthAdjust="spacing">0.3744</text>
<rect x="1547.7" y="522" width="55.2" height="18" rx="2" fill="#fff" stroke="#089981" stroke-opacity="0.6" stroke-width="1.5"/>
<text x="1557.2" y="535.8" font-size="13" fill="#089981" stroke="#089981" stroke-width="0.2" textLength="40.5" lengthAdjust="spacing">0.3300</text>
<text x="136.16" y="700.5" font-size="13" fill="#131722" stroke="#131722" stroke-width="0.2" textLength="23.5" lengthAdjust="spacing">May</text>
<text x="311.942" y="700.5" font-size="13" fill="#131722" stroke="#131722" stroke-width="0.2" textLength="20.5" lengthAdjust="spacing">Jun</text>
<text x="482.352" y="700.5" font-size="13" fill="#131722" stroke="#131722" stroke-width="0.2" textLength="17" lengthAdjust="spacing">Jul</text>
<text x="653.884" y="700.5" font-size="13" fill="#131722" stroke="#131722" stroke-width="0.2" textLength="22.5" lengthAdjust="spacing">Aug</text>
<text x="828.666" y="700.5" font-size="13" fill="#131722" stroke="#131722" stroke-width="0.2" textLength="21.5" lengthAdjust="spacing">Sep</text>
<text x="997.826" y="700.5" font-size="13" fill="#131722" stroke="#131722" stroke-width="0.2" textLength="20.5" lengthAdjust="spacing">Oct</text>
<text x="1171.36" y="700.5" font-size="13" fill="#131722" stroke="#131722" stroke-width="0.2" textLength="22" lengthAdjust="spacing">Nov</text>
<text x="1340.02" y="700.5" font-size="13" fill="#131722" stroke="#131722" stroke-width="0.2" textLength="22" lengthAdjust="spacing">Dec</text>
<text x="1509.5" y="700.5" font-size="13.4" fill="#131722" stroke="#131722" stroke-width="0" textLength="31" lengthAdjust="spacing" font-weight="bold">2025</text>
<g transform="translate(10.8,723.3) scale(0.603)" fill="#1e222d"><path d="M14 22H7V11H0V4h14v18zM28 22h-8l7.5-18h8L28 22z"/><circle cx="20" cy="8" r="4"/></g>
<text x="38" y="736.8" font-size="14" fill="#1e222d" stroke="#1e222d" stroke-width="0.2" textLength="77.5" lengthAdjust="spacing">TradingView</text>
</svg>
</body></html>
